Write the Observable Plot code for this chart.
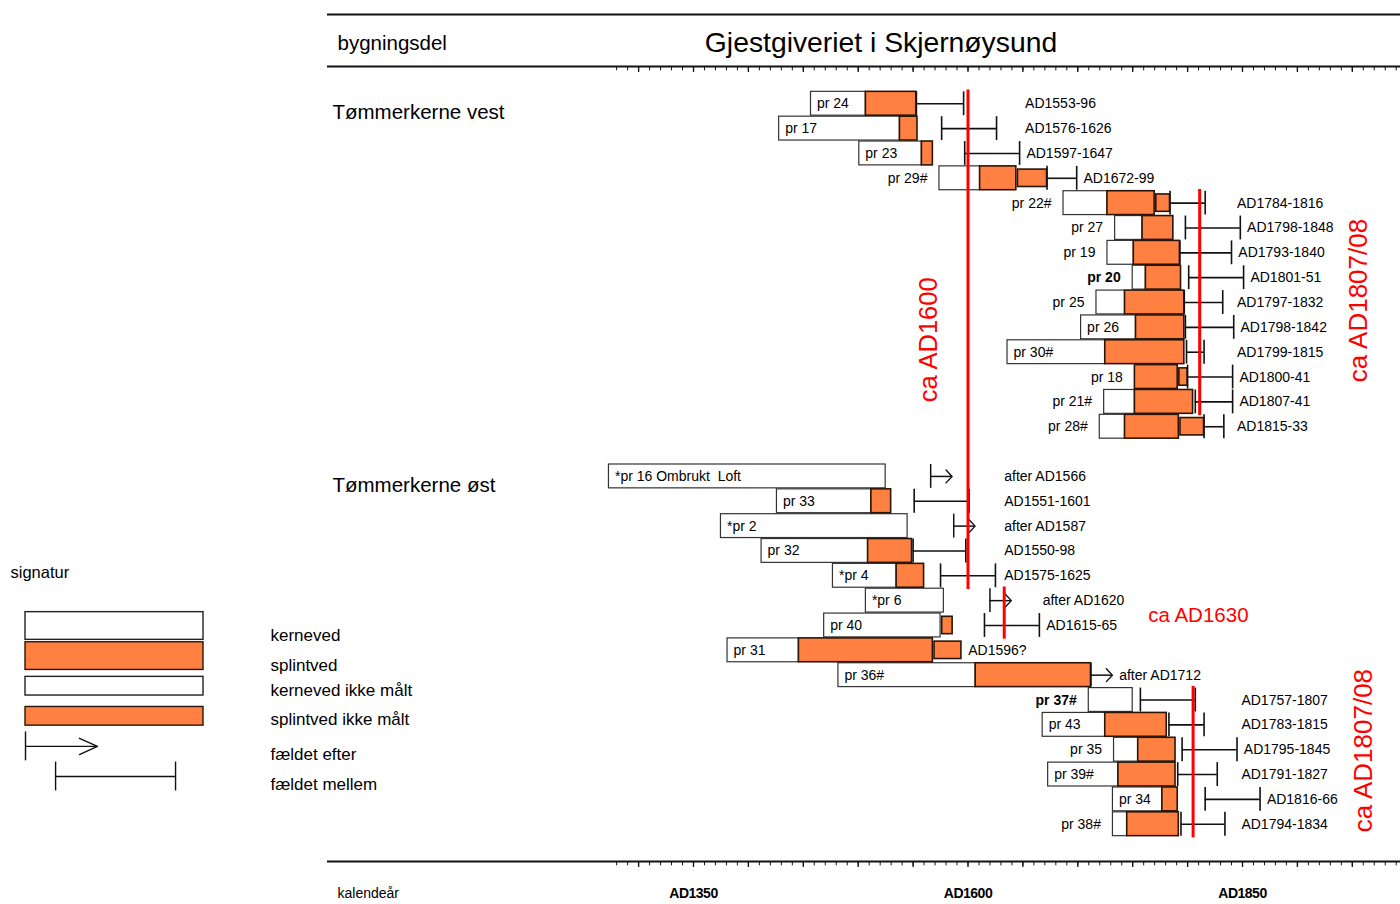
<!DOCTYPE html>
<html>
<head>
<meta charset="utf-8">
<script src="https://cdn.jsdelivr.net/npm/d3@7"></script>
<script src="https://cdn.jsdelivr.net/npm/@observablehq/plot@0.6"></script>
<style>
  body { margin: 0; background: #fff; font-family: "Liberation Sans", Arial, sans-serif; }
  #wrap { position: relative; width: 1400px; height: 904px; overflow: hidden; }
  #wrap > svg { display: block; }
  #legend { position: absolute; left: 0; top: 555px; }
  g[aria-label="dates tight"] text { letter-spacing: -0.4px; }
  g[aria-label="dates loose"] text { letter-spacing: 0.8px; }
  g[aria-label="x-axis tick label"] text { letter-spacing: -0.5px; }
  g[aria-label="kalendeaar"] text { letter-spacing: -0.3px; }
</style>
</head>
<body>
<svg width="0" height="0" style="position:absolute">
  <defs>
    <pattern id="orangeStripes" patternUnits="userSpaceOnUse" width="10" height="8">
      <rect width="10" height="8" fill="#ff8040"></rect>
      <rect y="3.5" width="10" height="1.1" fill="#ff9a2e"></rect>
    </pattern>
  </defs>
</svg>
<div id="wrap"></div>
<script>
// ---------------- data ----------------
const vestSamples = ["pr 24","pr 17","pr 23","pr 29#","pr 22#","pr 27","pr 19","pr 20","pr 25","pr 26","pr 30#","pr 18","pr 21#","pr 28#"];
const ostSamples = ["*pr 16 Ombrukt\u00a0\u00a0Loft","pr 33","*pr 2","pr 32","*pr 4","*pr 6","pr 40","pr 31","pr 36#","pr 37#","pr 43","pr 35","pr 39#","pr 34","pr 38#"];
const groupNames = ["Tømmerkerne vest", "Tømmerkerne øst"];
const boldSamples = ["pr 20", "pr 37#"];

// first measured ring (kerneved start)
const heartStart = [1457,1428,1501,1574,1687,1734,1727,1750,1717,1703,1636,1752,1724,1720,
                    1273,1426,1375,1412,1477,1507,1469,1381,1482,1710,1668,1733,1673,1732,1732];
// splintved (sapwood) start, null = no sapwood
const sapStart = [1507,1538,1558,1611,1727,1759,1751,1762,1743,1753,1725,1752,1752,1743,
                  null,1512,null,1509,1535,null,null,1446,1607,null,1725,1755,1737,1777,1745];
// last measured ring
const lastRing = [1553,1554,1568,1644,1770,1787,1793,1794,1797,1797,1797,1791,1805,1792,
                  1525,1530,1545,1549,1560,1578,1575,1568,1712,1750,1781,1789,1789,1791,1792];
// splintved ikke målt (unmeasured sapwood) end
const sapUnmeasuredEnd = [null,null,null,1672,1784,null,null,null,null,null,null,1800,null,1815,
                          null,null,null,null,null,null,1586,1594,null,null,null,null,null,null,null];
// felling: from / to (to = null -> "fældet efter")
const fellFrom = [1553,1576,1597,1672,1784,1798,1793,1801,1797,1798,1799,1800,1807,1815,
                  1566,1551,1587,1550,1575,1620,1615,null,1712,1757,1783,1795,1791,1816,1794];
const fellTo = [1596,1626,1647,1699,1816,1848,1840,1851,1832,1842,1815,1841,1841,1833,
                null,1601,null,1598,1625,null,1665,null,null,1807,1815,1845,1827,1866,1834];
const fellNote = ["AD1553-96","AD1576-1626","AD1597-1647","AD1672-99","AD1784-1816","AD1798-1848","AD1793-1840","AD1801-51","AD1797-1832","AD1798-1842","AD1799-1815","AD1800-41","AD1807-41","AD1815-33",
                  "after AD1566","AD1551-1601","after AD1587","AD1550-98","AD1575-1625","after AD1620","AD1615-65","AD1596?","after AD1712","AD1757-1807","AD1783-1815","AD1795-1845","AD1791-1827","AD1816-66","AD1794-1834"];

// red dating lines
const datingYears = [1600, 1633, 1811, 1805];
const datingLabels = ["ca AD1600", "ca AD1630", "ca AD1807/08", "ca AD1807/08"];
const datingFrom = ["pr 24", "*pr 6", "pr 22#", "pr 37#"];
const datingTo = ["*pr 4", "pr 40", "pr 21#", "pr 38#"];

// axis
const minorTicks = d3.range(1280, 1991, 10);
const majorTicks = d3.range(1300, 1991, 50);
const labelTicks = [1350, 1600, 1850];

// legend
const legendItems = ["kerneved", "splintved", "kerneved ikke målt", "splintved ikke målt", "fældet efter", "fældet mellem"];

// ---------------- build ----------------
const FONT = '"Liberation Sans", Arial, sans-serif';
const ORANGE = "#ff8040";
const samples = vestSamples.concat(ostSamples);
const recs = samples.map((s, i) => ({
  sample: s,
  row: i < vestSamples.length ? i : i + 1,
  heart: heartStart[i], sap: sapStart[i], last: lastRing[i], est: sapUnmeasuredEnd[i],
  from: fellFrom[i], to: fellTo[i], note: fellNote[i],
  bold: boldSamples.includes(s)
}));
const rowOf = new Map(recs.map(d => [d.sample, d.row]));
const groupRows = [0, vestSamples.length + 1];

const H = 0.48, Hs = 0.35, ARROW = 19.5;
const heartRects = recs.filter(d => (d.sap ?? d.last) > d.heart);
const sapRects = recs.filter(d => d.sap != null);
const estRects = recs.filter(d => d.est != null);
const ranges = recs.filter(d => d.from != null && d.to != null);
const afters = recs.filter(d => d.from != null && d.to == null);
const rangeEnds = ranges.flatMap(d => [{x: d.from, row: d.row}, {x: d.to, row: d.row}]);
const chevron = afters.flatMap(d => {
  const tip = d.from + ARROW;
  return [{id: d.sample, x: tip - 5.5, y: d.row - 0.26}, {id: d.sample, x: tip, y: d.row}, {id: d.sample, x: tip - 5.5, y: d.row + 0.26}];
});

// label columns (by row blocks)
const labelColumns = [
  {rows: [0, 2], year: 1652}, {rows: [4, 13], year: 1845},
  {rows: [15, 19], year: 1633}, {rows: [20, 21], year: 1668}, {rows: [24, 29], year: 1849}
];
function noteX(d) {
  const end = d.to != null ? d.to : d.from != null ? d.from + ARROW : (d.est ?? d.last);
  const col = labelColumns.find(c => d.row >= c.rows[0] && d.row <= c.rows[1]);
  return Math.max(end + 6.2, col ? col.year : -Infinity);
}
const notes = recs.map(d => ({...d, nx: noteX(d)}));
const labelRecs = recs.map(d => ({...d, inside: ((d.sap ?? d.last) - d.heart) >= 43}));

const dating = datingYears.map((y, i) => ({
  year: y, label: datingLabels[i],
  top: rowOf.get(datingFrom[i]) - 0.55, bottom: rowOf.get(datingTo[i]) + 0.55
})).map(d => ({...d, mid: (d.top + d.bottom) / 2}));

const pxRow = 795 / 32;
const yTopLine = -1.5 - 52 / pxRow;

const main = Plot.plot({
  width: 1400, height: 904,
  marginTop: 14, marginBottom: 43, marginLeft: 327, marginRight: 0,
  x: {domain: [1350 - 366 / 1.098, 1350 + 707 / 1.098]},
  y: {domain: [-1.5, 30.5], range: [66, 861], axis: null},
  style: {fontFamily: FONT, fontSize: "14px", background: "white", color: "black", overflow: "visible"},
  marks: [
    // frame lines & ticks
    Plot.ruleY([yTopLine, -1.5, 30.5], {stroke: "#111", strokeWidth: 1.8}),
    Plot.ruleX(minorTicks, {x: d => d, y1: -1.5, y2: -1.5 + 4.3 / pxRow, stroke: "#111", strokeWidth: 1}),
    Plot.ruleX(majorTicks, {x: d => d, y1: -1.5, y2: -1.5 + 6 / pxRow, stroke: "#111", strokeWidth: 1.3}),
    Plot.ruleX(minorTicks, {x: d => d, y1: 30.5, y2: 30.5 + 4.3 / pxRow, stroke: "#111", strokeWidth: 1}),
    Plot.ruleX(majorTicks, {x: d => d, y1: 30.5, y2: 30.5 + 6 / pxRow, stroke: "#111", strokeWidth: 1.3}),
    Plot.axisX({anchor: "bottom", ticks: labelTicks, tickSize: 0, tickPadding: 27, tickFormat: d => "AD" + d, fontSize: 14, fontWeight: "bold", fill: "black"}),
    // headers
    Plot.text(["bygningsdel"], {frameAnchor: "top-left", dx: 10, dy: 29, lineAnchor: "middle", textAnchor: "start", fontSize: 20.5}),
    Plot.text(["Gjestgiveriet i Skjernøysund"], {frameAnchor: "top", dx: 17, dy: 28, lineAnchor: "middle", fontSize: 28.3}),
    Plot.text(["kalendeår"], {frameAnchor: "bottom-left", dx: 10, dy: 32, lineAnchor: "middle", textAnchor: "start", fontSize: 14, ariaLabel: "kalendeaar"}),
    Plot.text(groupNames, {frameAnchor: "left", y: (d, i) => groupRows[i], dx: 5, dy: 9, textAnchor: "start", fontSize: 20.5}),
    // bars
    Plot.rect(heartRects, {x1: "heart", x2: d => d.sap ?? d.last, y1: d => d.row - H, y2: d => d.row + H, fill: "white", stroke: "#333", strokeWidth: 1.2}),
    Plot.rect(sapRects, {x1: "sap", x2: "last", y1: d => d.row - H, y2: d => d.row + H, fill: ORANGE, stroke: "#2a1608", strokeWidth: 1.6, ariaLabel: "sapwood"}),
    Plot.rect(estRects, {x1: d => d.last + 1.5, x2: "est", y1: d => d.row - Hs, y2: d => d.row + Hs, fill: ORANGE, stroke: "#2a1608", strokeWidth: 1.6, ariaLabel: "sapwood unmeasured"}),
    // felling ranges
    Plot.ruleY(ranges, {y: "row", x1: "from", x2: "to", stroke: "#111", strokeWidth: 1.6}),
    Plot.ruleX(rangeEnds, {x: "x", y1: d => d.row - H, y2: d => d.row + H, stroke: "#111", strokeWidth: 1.6}),
    // felled after
    Plot.ruleY(afters, {y: "row", x1: "from", x2: d => d.from + ARROW, stroke: "#111", strokeWidth: 1.5}),
    Plot.ruleX(afters, {x: "from", y1: d => d.row - H, y2: d => d.row + H, stroke: "#111", strokeWidth: 1.5}),
    Plot.line(chevron, {x: "x", y: "y", z: "id", stroke: "#111", strokeWidth: 1.4}),
    // red dating lines
    Plot.ruleX(dating, {x: "year", y1: "top", y2: "bottom", stroke: "#ff0000", strokeWidth: 3}),
    Plot.text(dating.filter((d, i) => i === 0), {x: "year", y: "mid", text: "label", rotate: -90, dx: -39.5, fill: "#ff0000", fontSize: 25.5}),
    Plot.text(dating.filter((d, i) => i === 1), {x: "year", y: "mid", text: "label", textAnchor: "start", dx: 144, dy: 2.5, fill: "#ff0000", fontSize: 20.5}),
    Plot.text(dating.filter((d, i) => i === 2), {x: "year", y: "mid", text: "label", rotate: -90, dx: 159, dy: -2, fill: "#ff0000", fontSize: 26}),
    Plot.text(dating.filter((d, i) => i === 3), {x: "year", y: "mid", text: "label", rotate: -90, dx: 170.5, dy: -11.5, fill: "#ff0000", fontSize: 26}),
    // sample labels
    Plot.text(labelRecs.filter(d => d.inside && !d.bold), {x: "heart", y: "row", text: "sample", textAnchor: "start", dx: 6, fontSize: 14}),
    Plot.text(labelRecs.filter(d => !d.inside && !d.bold), {x: "heart", y: "row", text: "sample", textAnchor: "end", dx: -12, fontSize: 14}),
    Plot.text(labelRecs.filter(d => !d.inside && d.bold), {x: "heart", y: "row", text: "sample", textAnchor: "end", dx: -12, fontSize: 14, fontWeight: "bold"}),
    // felling notes
    Plot.text(notes.filter(d => d.note.startsWith("AD") && !d.note.includes("?")), {x: "nx", y: "row", text: "note", textAnchor: "start", fontSize: 14, ariaLabel: "dates tight"}),
    Plot.text(notes.filter(d => d.note.startsWith("after")), {x: "nx", y: "row", text: "note", textAnchor: "start", fontSize: 14, ariaLabel: "dates after"}),
    Plot.text(notes.filter(d => d.note.includes("?")), {x: "nx", y: "row", text: "note", textAnchor: "start", fontSize: 14, ariaLabel: "dates loose"})
  ]
});
d3.select(main).selectAll('g[aria-label="sapwood"], g[aria-label="sapwood unmeasured"]').attr("fill", "url(#orangeStripes)");
document.getElementById("wrap").appendChild(main);

// ---------------- legend ----------------
const lg = legendItems.map((name, i) => ({name, i}));
const labelShift = [10, 9.5, 4.5, 3.5, 8.5, 8.5]; // px offset of each legend text below its swatch
const legend = Plot.plot({
  width: 430, height: 250, margin: 0,
  x: {domain: [0, 1], range: [25, 203], axis: null},
  y: {domain: [0, 5], range: [70.5, 221], axis: null},
  style: {fontFamily: FONT, background: "transparent", color: "black", overflow: "visible"},
  marks: [
    Plot.text(["signatur"], {frameAnchor: "top-left", dx: 10, dy: 17, lineAnchor: "middle", textAnchor: "start", fontSize: 16.5}),
    Plot.rect(lg.filter(d => d.i === 0), {x1: 0, x2: 1, y1: d => d.i - 0.46, y2: d => d.i + 0.46, fill: "white", stroke: "#222", strokeWidth: 1.4}),
    Plot.rect(lg.filter(d => d.i === 1), {x1: 0, x2: 1, y1: d => d.i - 0.46, y2: d => d.i + 0.46, fill: ORANGE, stroke: "#2a1608", strokeWidth: 1.4, ariaLabel: "sapwood"}),
    Plot.rect(lg.filter(d => d.i === 2), {x1: 0, x2: 1, y1: d => d.i - 0.31, y2: d => d.i + 0.31, fill: "white", stroke: "#222", strokeWidth: 1.4}),
    Plot.rect(lg.filter(d => d.i === 3), {x1: 0, x2: 1, y1: d => d.i - 0.31, y2: d => d.i + 0.31, fill: ORANGE, stroke: "#2a1608", strokeWidth: 1.4, ariaLabel: "sapwood"}),
    // fældet efter
    Plot.ruleX(lg.filter(d => d.i === 4), {x: 0, y1: d => d.i - 0.48, y2: d => d.i + 0.48, stroke: "#111", strokeWidth: 1.4}),
    Plot.ruleY(lg.filter(d => d.i === 4), {y: "i", x1: 0, x2: 0.404, stroke: "#111", strokeWidth: 1.4}),
    Plot.line([{x: 0.303, y: 3.73}, {x: 0.404, y: 4}, {x: 0.303, y: 4.27}], {x: "x", y: "y", stroke: "#111", strokeWidth: 1.4}),
    // fældet mellem
    Plot.ruleX(lg.filter(d => d.i === 5).flatMap(d => [{x: 0.169, i: d.i}, {x: 0.843, i: d.i}]), {x: "x", y1: d => d.i - 0.48, y2: d => d.i + 0.48, stroke: "#111", strokeWidth: 1.4}),
    Plot.ruleY(lg.filter(d => d.i === 5), {y: "i", x1: 0.169, x2: 0.843, stroke: "#111", strokeWidth: 1.4}),
    // labels
    Plot.text(lg, {x: 1.376, y: d => d.i + labelShift[d.i] / 30.1, text: "name", textAnchor: "start", fontSize: 17})
  ]
});
d3.select(legend).selectAll('g[aria-label="sapwood"]').attr("fill", "url(#orangeStripes)");
legend.id = "legend";
document.getElementById("wrap").appendChild(legend);
</script>
</body>
</html>
